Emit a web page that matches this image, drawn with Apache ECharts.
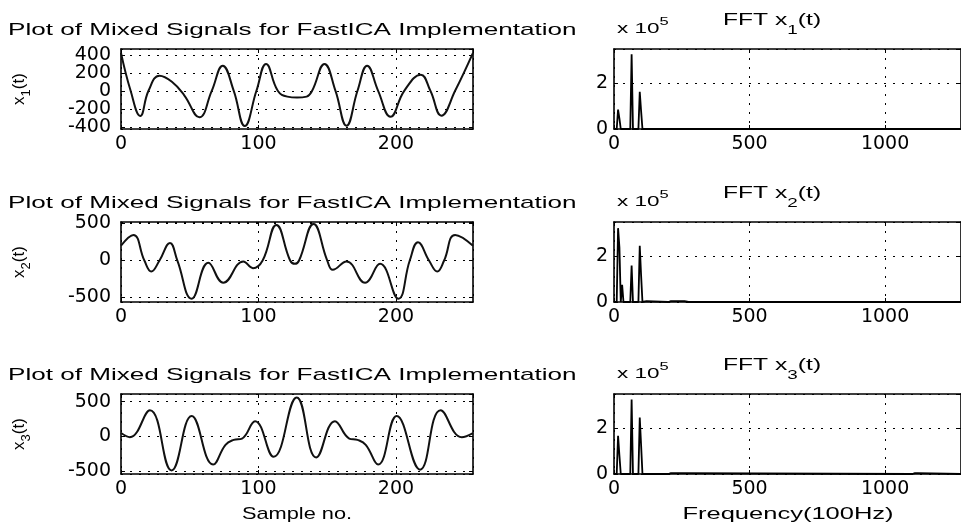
<!DOCTYPE html>
<html><head><meta charset="utf-8">
<script src="https://cdn.jsdelivr.net/npm/echarts@6/dist/echarts.min.js"></script>
<style>html,body{margin:0;padding:0;background:#fff}#c{width:961px;height:525px}</style>
</head><body><div id="c"></div>
<script>
// ---- time-domain mixed signals (sample no. / amplitude) ----
const x1Samples = [0, 7, 14, 20, 28, 37, 46, 57, 66, 74, 82, 90, 98.5, 105.5, 114, 121, 128, 135, 139, 148, 156, 164, 172, 179, 187, 196, 206, 218, 225, 233, 243, 256];
const x1Values  = [422, 0, -280, 0, 168, 100, -50, -295, 0, 280, 0, -392, 0, 299, 0, -65, -75, -65, 0, 299, 0, -389, 0, 280, 0, -288, 0, 179, 0, -277, 0, 422];
const x2Samples = [0, 9, 17, 22, 28, 35.6, 41, 51.4, 63.5, 74.4, 89, 96, 103, 113, 123, 126.5, 129.5, 140, 150, 154, 164, 177.5, 188.4, 201.7, 210, 216, 224, 230, 235, 243, 256];
const x2Values  = [200, 345, 0, -148, 0, 238, 0, -516, -31, -300, -13, -103, 0, 480, 0, -45, 0, 493, 0, -125, -13, -300, -45, -516, 0, 247, 0, -148, 0, 345, 200];
const x3Samples = [0, 6.5, 21, 36.8, 51.4, 67, 76, 82, 88, 97.5, 111, 127.8, 142, 155.6, 166, 172, 178, 187, 200.5, 217.5, 232.5, 247.8, 256];
const x3Values  = [49, -10, 376, -488, 293, -405, -120, -50, -30, 220, -293, 561, -302, 220, -30, -50, -120, -405, 293, -478, 376, -10, 49];

// ---- FFT magnitudes (frequency in 100Hz units / magnitude) ----
const fft1Freq = [0, 10, 15, 20, 25, 60, 65, 70, 90, 95, 100, 105, 150, 155, 160, 300, 305, 310, 700, 705, 710, 1280];
const fft1Mag  = [0, 0, 85000, 45000, 0, 0, 327000, 0, 0, 163000, 78000, 0, 0, 3000, 0, 0, 2500, 0, 0, 2500, 0, 0];
const fft2Freq = [0, 10, 15, 20, 25, 30, 35, 60, 65, 70, 90, 95, 100, 105, 110, 120, 125, 200, 210, 220, 240, 260, 275, 280, 700, 705, 710, 1280];
const fft2Mag  = [0, 0, 323000, 239000, 0, 75000, 0, 0, 160000, 0, 0, 246000, 116000, 0, 4000, 4000, 0, 0, 4000, 4000, 4000, 4000, 0, 0, 0, 3000, 0, 0];
const fft3Freq = [0, 10, 15, 20, 25, 60, 65, 70, 90, 95, 100, 105, 110, 200, 210, 230, 250, 255, 1100, 1110, 1120, 1125, 1280];
const fft3Mag  = [0, 0, 167000, 81000, 0, 0, 326000, 0, 0, 247000, 126000, 0, 0, 0, 4000, 4000, 4000, 0, 0, 4000, 4000, 0, 0];

// ---- axes ----
const timeRange = [0, 256];
const timeTickStep = 100;
const ampRanges = [[-425, 465], [-560, 520], [-540, 610]];
const ampSplits = [5, 2, 2];
const freqRange = [0, 1280];
const freqTickStep = 500;
const magRange = [0, 350000];
const magTickStep = 200000;

// ---- texts ----
const leftTitle = 'Plot of Mixed Signals for FastICA Implementation';
const signalIdx = ['1', '2', '3'];
const xNameLeft = 'Sample no.';
const xNameRight = 'Frequency(100Hz)';

const waves = [[x1Samples, x1Values], [x2Samples, x2Values], [x3Samples, x3Values]];
const ffts = [[fft1Freq, fft1Mag], [fft2Freq, fft2Mag], [fft3Freq, fft3Mag]];

const TXT = 'Liberation Sans';
const TICKFONT = 'DejaVu Sans';
const rowTops = [49, 222, 394];
const rowH = 80;
const leftX = 121, rightX = 614, plotW = 352;

const grids = [], xAxes = [], yAxes = [], series = [], graphics = [];
const dotted = {show: true, lineStyle: {color: '#000', width: 1, type: [2, 7]}};
const boxLine = {show: true, onZero: false, lineStyle: {color: '#000', width: 1.6}};
const tick = {show: true, inside: true, length: 4, lineStyle: {color: '#000', width: 1}};

function addPanel(g, left, top, xr, xInt, yr, ySplit, yInt, yFmt, yMargin) {
  grids.push({left: left, top: top, width: plotW, height: rowH, containLabel: false});
  const xb = {type: 'value', gridIndex: g, position: 'bottom', min: xr[0], max: xr[1], interval: xInt,
    axisLine: boxLine, axisTick: tick, splitLine: dotted,
    axisLabel: {color: '#000', fontFamily: TICKFONT, fontSize: 19, margin: 6, showMaxLabel: false, formatter: v => String(v)}};
  const xt = {type: 'value', gridIndex: g, position: 'top', min: xr[0], max: xr[1], interval: xInt,
    axisLine: boxLine, axisTick: tick, splitLine: {show: false}, axisLabel: {show: false}};
  const yl = {type: 'value', gridIndex: g, position: 'left', min: yr[0], max: yr[1],
    axisLine: boxLine, axisTick: tick, splitLine: dotted,
    axisLabel: {color: '#000', fontFamily: TICKFONT, fontSize: 19, margin: yMargin, showMinLabel: yInt ? true : false, showMaxLabel: false, formatter: yFmt}};
  if (yInt) yl.interval = yInt; else yl.splitNumber = ySplit;
  const yr2 = Object.assign({}, yl, {position: 'right', splitLine: {show: false}, axisLabel: {show: false}});
  xAxes.push(xb, xt); yAxes.push(yl, yr2);
}

for (let r = 0; r < 3; r++) {
  const g = r;
  addPanel(g, leftX, rowTops[r], timeRange, timeTickStep, ampRanges[r], ampSplits[r], null, v => String(v), 10);
  const [xs, vs] = waves[r];
  series.push({type: 'line', xAxisIndex: 2 * g, yAxisIndex: 2 * g, data: xs.map((s, k) => [s, vs[k]]),
    showSymbol: false, smooth: 0.45, lineStyle: {color: '#111', width: 2}, silent: true, animation: false});
}
for (let r = 0; r < 3; r++) {
  const g = 3 + r;
  addPanel(g, rightX, rowTops[r], freqRange, freqTickStep, magRange, 2, magTickStep, v => String(v / 100000), 6);
  const [fs, ms] = ffts[r];
  series.push({type: 'line', xAxisIndex: 2 * g, yAxisIndex: 2 * g, data: fs.map((f, k) => [f, ms[k]]),
    showSymbol: false, lineStyle: {color: '#000', width: 1.8}, silent: true, animation: false});
}

function txt(x, y, text, size, sx, align) {
  return {type: 'text', x: x, y: y, scaleX: sx || 1, silent: true,
    style: {text: text, fill: '#000', fontFamily: TXT, fontSize: size, align: align || 'left', verticalAlign: 'middle',
      textAlign: align || 'left', textVerticalAlign: 'middle'}};
}

for (let r = 0; r < 3; r++) {
  const top = rowTops[r];
  graphics.push(txt(8, top - 19, leftTitle, 17, 1.535));
  graphics.push({type: 'text', x: 723, y: top - 29, scaleX: 1.45, silent: true,
    style: {text: '{m|FFT x}{s|' + signalIdx[r] + '}{m|(t)}', align: 'left', verticalAlign: 'middle', textAlign: 'left', textVerticalAlign: 'middle',
      rich: {m: {fontFamily: TXT, fontSize: 17, fill: '#000'}, s: {fontFamily: TXT, fontSize: 13, fill: '#000', padding: [20, 0, 0, 0]}}}});
  graphics.push({type: 'text', x: 617, y: top - 20, scaleX: 1.5, silent: true,
    style: {text: '{m|x 10}{p|5}', align: 'left', verticalAlign: 'middle', textAlign: 'left', textVerticalAlign: 'middle',
      rich: {m: {fontFamily: TXT, fontSize: 15, fill: '#000'}, p: {fontFamily: TXT, fontSize: 11, fill: '#000', padding: [0, 0, 14, 0]}}}});
  graphics.push({type: 'text', x: 19, y: top + rowH / 2, rotation: Math.PI / 2, silent: true,
    style: {text: '{m|x}{s|' + signalIdx[r] + '}{m|(t)}', align: 'center', verticalAlign: 'middle', textAlign: 'center', textVerticalAlign: 'middle',
      rich: {m: {fontFamily: TXT, fontSize: 17, fill: '#000'}, s: {fontFamily: TXT, fontSize: 13, fill: '#000', padding: [14, 0, 0, 0]}}}});
}
graphics.push(txt(leftX + plotW / 2, 514, xNameLeft, 17, 1.28, 'center'));
graphics.push(txt(788, 514, xNameRight, 17, 1.5, 'center'));

const chart = echarts.init(document.getElementById('c'), null, {renderer: 'canvas'});
chart.setOption({
  backgroundColor: '#fff',
  animation: false,
  grid: grids, xAxis: xAxes, yAxis: yAxes, series: series, graphic: graphics
});
</script></body></html>
